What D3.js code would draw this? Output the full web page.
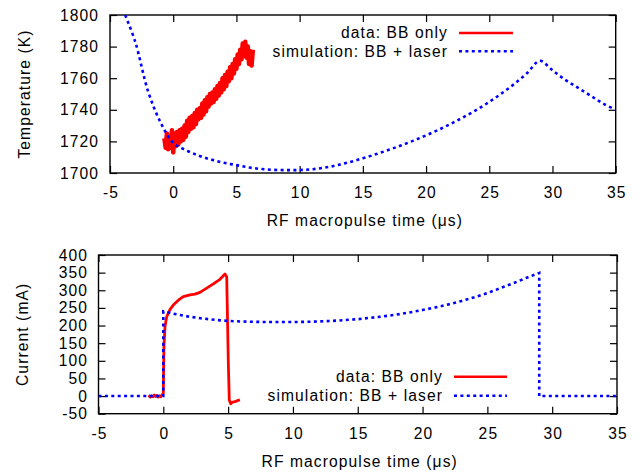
<!DOCTYPE html>
<html>
<head>
<meta charset="utf-8">
<script src="https://cdn.jsdelivr.net/npm/d3@7"></script>
<style>
  html, body { margin: 0; padding: 0; background: #fff; }
  svg text { font-family: "Liberation Sans", Arial, Helvetica, sans-serif; letter-spacing: 1.1px; }
</style>
</head>
<body>
<svg id="chart" width="639" height="473"></svg>
<script>
// ---------- data ----------
const xTicks = [-5, 0, 5, 10, 15, 20, 25, 30, 35];
const xTickLabels = ["-5", "0", "5", "10", "15", "20", "25", "30", "35"];
const tempTicks = [1700, 1720, 1740, 1760, 1780, 1800];
const tempTickLabels = ["1700", "1720", "1740", "1760", "1780", "1800"];
const curTicks = [-50, 0, 50, 100, 150, 200, 250, 300, 350, 400];
const curTickLabels = ["-50", "0", "50", "100", "150", "200", "250", "300", "350", "400"];

// top panel: measured temperature (BB only)
const tempDataTime = [-0.7,-0.6,-0.5,-0.4,-0.3,-0.2,-0.1,0.0,0.1,0.2,0.3,0.4,0.5,0.6,0.7,0.8,0.9,1.0,1.1,1.2,1.3,1.4,1.5,1.6,1.7,1.8,1.9,2.0,2.1,2.2,2.3,2.4,2.5,2.6,2.7,2.8,2.9,3.0,3.1,3.2,3.3,3.4,3.5,3.6,3.7,3.8,3.9,4.0,4.1,4.2,4.3,4.4,4.5,4.6,4.7,4.8,4.9,5.0,5.1,5.2,5.3,5.4,5.5,5.6,5.7,5.8,5.9,6.0,6.1,6.2,6.3];
const tempDataK = [1722,1716,1725,1715,1722,1716,1727,1713,1725,1717,1726,1718,1727,1720,1728,1721,1730,1723,1733,1726,1735,1728,1736,1729,1738,1731,1740,1734,1741,1735,1744,1737,1746,1739,1748,1742,1750,1744,1751,1745,1753,1747,1755,1749,1757,1751,1760,1753,1762,1755,1764,1758,1767,1760,1769,1763,1772,1766,1775,1769,1778,1772,1782,1774,1783,1773,1780,1769,1777,1768,1778];

// top panel: simulation (BB + laser)
const tempSimTime = [-3.8,-3,-2,-1,0,1,2,3,4,5,6,7,8,9,10,11,12,13,14,15,16,17,18,19,20,21,22,23,24,25,26,27,28,29,30,31,32,33,34,35];
const tempSimK = [1800,1783,1752,1732,1719,1714.5,1711,1708.5,1706.5,1705,1703.5,1702.5,1702,1701.8,1701.9,1702.4,1703.4,1705,1707,1709.3,1711.8,1714.5,1717.4,1720.5,1723.8,1727.4,1731.3,1735.5,1740,1745,1750.5,1756.5,1763.3,1771,1765,1759,1754,1749,1744,1740];

// bottom panel: measured current (BB only)
const curDataTime = [-1.14,-1.0,-0.9,-0.8,-0.7,-0.6,-0.5,-0.4,-0.3,-0.2,-0.12,0.0,0.02,0.05,0.13,0.26,0.52,0.77,1.16,1.54,2.06,2.44,2.83,3.35,3.86,4.37,4.63,4.76,4.89,4.94,5.01,5.09,5.2,5.35,5.53,5.7,5.91];
const curDataMA = [2,-3,1,-2,3,-1,2,-3,1,-2,2,8,74,140,197,225,246,258,272,282,287,289,294,306,318,331,341,346,338,244,102,-11,-22,-17,-16,-13,-11];

// bottom panel: simulation (BB + laser)
const curSimTime = [-5,0,0,1,2,3,4,5,6,7,8,9,10,11,12,13,14,15,16,17,18,19,20,21,22,23,24,25,26,27,28,29,29,35];
const curSimMA = [0,0,240,232,225,220,216,213,211.5,210.5,210,209.8,210,210.5,211.5,213,215.5,218,222,226,231,237,244,251.5,260,269.5,280,292,306,320,335,349,0,0];

const legendLabels = ["data: BB only", "simulation: BB + laser"];
const xLabel = "RF macropulse time (\u03BCs)";

// ---------- drawing ----------
const svg = d3.select("#chart");
const FS = 15.6;

function panel(cfg) {
  const g = svg.append("g");
  const x = d3.scaleLinear().domain([-5, 35]).range([cfg.left, cfg.right]);
  const y = d3.scaleLinear().domain(cfg.yDomain).range([cfg.bottom, cfg.top]);
  const clipId = "clip" + cfg.id;
  svg.append("clipPath").attr("id", clipId).append("rect")
    .attr("x", cfg.left).attr("y", cfg.top)
    .attr("width", cfg.right - cfg.left).attr("height", cfg.bottom - cfg.top);

  const tick = 7;
  const ax = g.append("g").attr("transform", `translate(0.5,${cfg.bottom})`)
    .call(d3.axisBottom(x).tickValues(xTicks).tickFormat((d, i) => xTickLabels[i])
      .tickSizeInner(-tick).tickSizeOuter(0).tickPadding(14));
  const axTop = g.append("g").attr("transform", `translate(0,${cfg.top})`)
    .call(d3.axisTop(x).tickValues(xTicks).tickFormat("").tickSizeInner(-tick).tickSizeOuter(0));
  const ay = g.append("g").attr("transform", `translate(${cfg.left + 1},0)`)
    .call(d3.axisLeft(y).tickValues(cfg.yTicks).tickFormat((d, i) => cfg.yLabels[i])
      .tickSizeInner(-tick).tickSizeOuter(0).tickPadding(cfg.yPad));
  const ayR = g.append("g").attr("transform", `translate(${cfg.right},0)`)
    .call(d3.axisRight(y).tickValues(cfg.yTicks).tickFormat("").tickSizeInner(-tick).tickSizeOuter(0));

  [ax, axTop, ay, ayR].forEach(a => {
    a.select(".domain").remove();
    a.selectAll("line").attr("stroke", "#000").attr("stroke-width", 1.2);
    a.selectAll("text").attr("font-size", FS).attr("fill", "#000")
      .style("font-family", '"Liberation Sans", Arial, sans-serif');
  });
  ax.selectAll("line").attr("transform", "translate(-0.5,0)");
  ay.selectAll("line").attr("transform", "translate(-1,0)");

  g.append("rect").attr("x", cfg.left).attr("y", cfg.top)
    .attr("width", cfg.right - cfg.left).attr("height", cfg.bottom - cfg.top)
    .attr("fill", "none").attr("stroke", "#000").attr("stroke-width", 1.4);

  const plot = g.append("g").attr("clip-path", `url(#${clipId})`);
  const line = d3.line().x(d => x(d[0])).y(d => y(d[1]));
  const simLine = d3.line().x(d => x(d[0])).y(d => y(d[1])).curve(cfg.simCurve);

  plot.append("path").datum(d3.zip(cfg.dataX, cfg.dataY))
    .attr("d", line).attr("fill", "none").attr("stroke", "#ff0000")
    .attr("stroke-width", cfg.dataWidth).attr("stroke-linejoin", "round");
  plot.append("path").datum(d3.zip(cfg.simX, cfg.simY))
    .attr("d", simLine).attr("fill", "none").attr("stroke", "#0000ff")
    .attr("stroke-width", 2.6).attr("stroke-dasharray", "3,3.4");

  g.append("text").attr("transform", `translate(${cfg.yLabelX},${(cfg.top + cfg.bottom) / 2}) rotate(-90)`)
    .attr("text-anchor", "middle").attr("dy", "0.35em").attr("font-size", FS).text(cfg.yTitle);
  g.append("text").attr("x", (cfg.left + cfg.right) / 2 + 2).attr("y", cfg.bottom + 53)
    .attr("text-anchor", "middle").attr("font-size", FS).text(xLabel);

  const lg = g.append("g");
  const rows = [{ c: "#ff0000", dash: null, w: 2.6 }, { c: "#0000ff", dash: "3,3.4", w: 2.6 }];
  rows.forEach((r, i) => {
    const yy = cfg.legY + i * cfg.legDY;
    lg.append("text").attr("x", cfg.legTextX + 1).attr("y", yy).attr("dy", "0.35em")
      .attr("text-anchor", "end").attr("font-size", FS).text(legendLabels[i]);
    lg.append("line").attr("x1", cfg.legX1).attr("x2", cfg.legX2).attr("y1", yy).attr("y2", yy)
      .attr("stroke", r.c).attr("stroke-width", r.w).attr("stroke-dasharray", r.dash);
  });
}

panel({
  id: "T", left: 110, right: 615.7, top: 15, bottom: 173,
  yDomain: [1700, 1800], yTicks: tempTicks, yLabels: tempTickLabels, yPad: 12,
  yTitle: "Temperature (K)", yLabelX: 25,
  dataX: tempDataTime, dataY: tempDataK, dataWidth: 4.5,
  simX: tempSimTime, simY: tempSimK, simCurve: d3.curveCatmullRom.alpha(0.5),
  legY: 33, legDY: 18.3, legTextX: 447, legX1: 459, legX2: 513
});

panel({
  id: "C", left: 98.5, right: 617, top: 255, bottom: 413.7,
  yDomain: [-50, 400], yTicks: curTicks, yLabels: curTickLabels, yPad: 11.5,
  yTitle: "Current (mA)", yLabelX: 23,
  dataX: curDataTime, dataY: curDataMA, dataWidth: 2.8,
  simX: curSimTime, simY: curSimMA, simCurve: d3.curveLinear,
  legY: 376.7, legDY: 19, legTextX: 442, legX1: 454, legX2: 507
});
</script>
</body>
</html>
